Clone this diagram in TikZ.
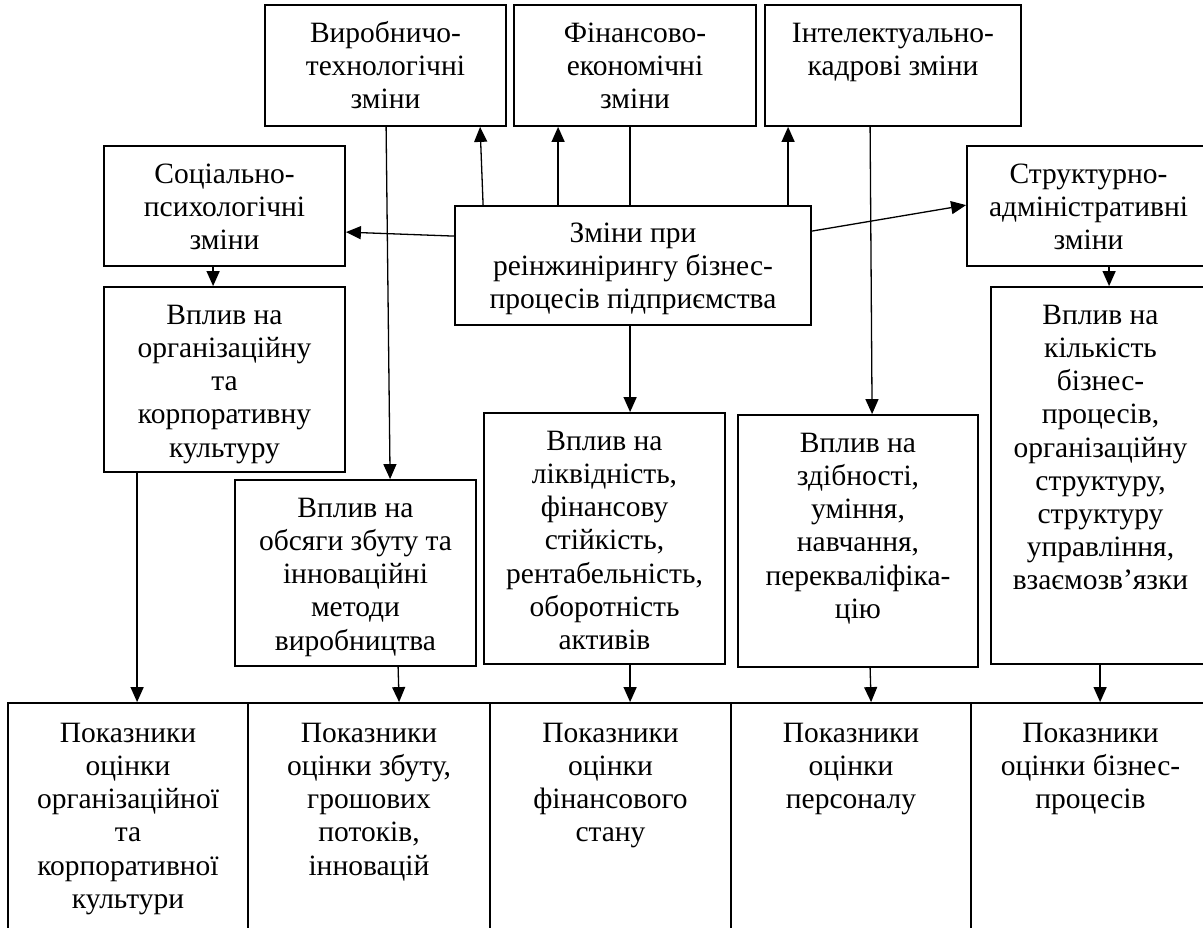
\documentclass[tikz,border=0pt]{standalone}
\usepackage{fontspec}
\setmainfont{Liberation Serif}
\usetikzlibrary{fit,arrows.meta}
\tikzset{
  boxst/.style={draw, line width=1.8pt, inner sep=0pt, rectangle},
  txt/.style={anchor=north, inner sep=0pt, align=center,
    font=\fontsize{29.5}{33.2}\selectfont},
  conn/.style={line width=1.3pt},
  arr/.style={conn, -{Triangle[length=15pt,width=13pt]}}
}
\newcommand\mkbox[7][14.76]{%
  \node[boxst, fit={(#3,#4)(#5,#6)}] (#2) {};
  \node[txt] (#2t) at ([yshift=-#1pt]#2.north) {\strut #7};}
\begin{document}
\begin{tikzpicture}[x=1pt,y=-1pt]
\useasboundingbox (0,0) rectangle (1203,928);
\clip (0,0) rectangle (1203,928);
\mkbox{v}{265}{5}{506}{126}{Виробничо-\\технологічні\\зміни}
\mkbox{f}{514}{5}{756}{126}{Фінансово-\\економічні\\зміни}
\mkbox{i}{765}{5}{1021}{126}{Інтелектуально-\\кадрові зміни}
\mkbox{s}{104}{146}{345}{266}{Соціально-\\психологічні\\зміни}
\mkbox{a}{967}{146}{1210}{266}{Структурно-\\адміністративні\\зміни}
\mkbox[13.76]{c}{455}{206}{811}{325}{Зміни при\\реінжинірингу бізнес-\\процесів підприємства}
\mkbox{o}{104}{287}{345}{472}{Вплив на\\організаційну\\та\\корпоративну\\культуру}
\mkbox{z}{235}{480}{476}{666}{Вплив на\\обсяги збуту та\\інноваційні\\методи\\виробництва}
\mkbox{l}{484}{413}{725}{664}{Вплив на\\ліквідність,\\фінансову\\стійкість,\\рентабельність,\\оборотність\\активів}
\mkbox{d}{738}{415}{978}{667}{Вплив на\\здібності,\\уміння,\\навчання,\\перекваліфіка-\\цію}
\mkbox{k}{991}{287}{1210}{664}{Вплив на\\кількість\\бізнес-\\процесів,\\організаційну\\структуру,\\структуру\\управління,\\взаємозв’язки}
\mkbox[16.76]{ba}{8}{703}{248}{935}{Показники\\оцінки\\організаційної\\та\\корпоративної\\культури}
\mkbox[16.76]{bb}{248}{703}{490}{935}{Показники\\оцінки збуту,\\грошових\\потоків,\\інновацій}
\mkbox[16.76]{bc}{490}{703}{731}{935}{Показники\\оцінки\\фінансового\\стану}
\mkbox[16.76]{bd}{731}{703}{971}{935}{Показники\\оцінки\\персоналу}
\mkbox[16.76]{be}{971}{703}{1210}{935}{Показники\\оцінки бізнес-\\процесів}
% connectors
\draw[arr] ([xshift=29pt]c.north west) -- ([xshift=216pt]v.south west);
\draw[arr] ([xshift=104pt]c.north west) -- ([xshift=45pt]f.south west);
\draw[conn] ([xshift=117pt]f.south west) -- ([xshift=176pt]c.north west);
\draw[arr] ([xshift=334pt]c.north west) -- ([xshift=24pt]i.south west);
\draw[arr] ([xshift=122pt]v.south west) -- ([xshift=156pt]z.north west);
\draw[arr] ([xshift=106pt]i.south west) -- ([xshift=135pt]d.north west);
\draw[arr] ([yshift=-31pt]c.north west) -- ([yshift=-87pt]s.north east);
\draw[arr] ([yshift=-26pt]c.north east) -- ([yshift=-60pt]a.north west);
\draw[arr] ([xshift=110pt]s.south west) -- ([xshift=110pt]o.north west);
\draw[arr] ([xshift=143pt]a.south west) -- ([xshift=119pt]k.north west);
\draw[arr] ([xshift=176pt]c.south west) -- ([xshift=147pt]l.north west);
\draw[arr] ([xshift=34pt]o.south west) -- ([xshift=130pt]ba.north west);
\draw[arr] ([xshift=164pt]z.south west) -- ([xshift=152pt]bb.north west);
\draw[arr] ([xshift=147pt]l.south west) -- ([xshift=141pt]bc.north west);
\draw[arr] ([xshift=133pt]d.south west) -- ([xshift=141pt]bd.north west);
\draw[arr] ([xshift=110pt]k.south west) -- ([xshift=130pt]be.north west);
\end{tikzpicture}
\end{document}
